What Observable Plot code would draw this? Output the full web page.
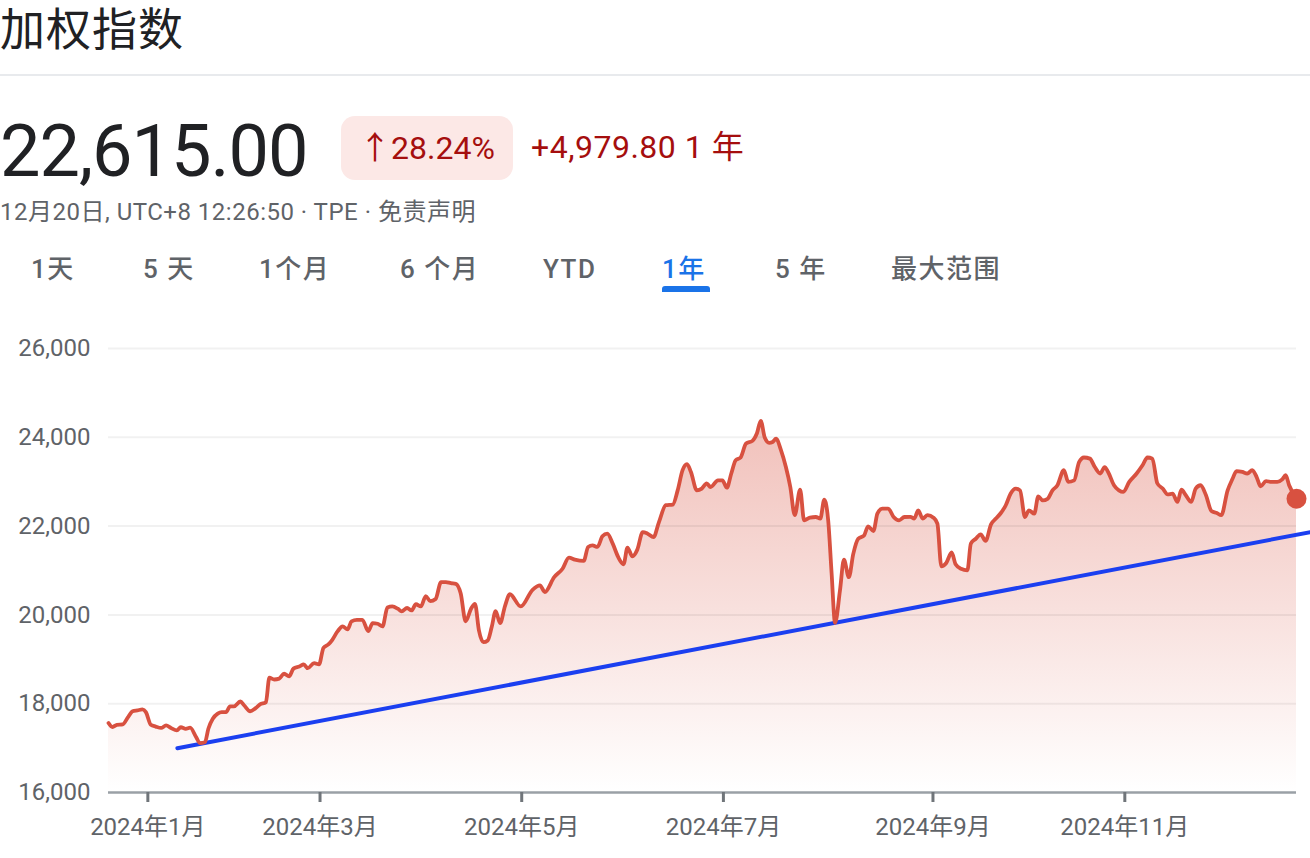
<!DOCTYPE html>
<html>
<head>
<meta charset="utf-8">
<script src="https://cdn.jsdelivr.net/npm/d3@7"></script>
<script src="https://cdn.jsdelivr.net/npm/@observablehq/plot@0.6"></script>
<style>
  html, body { margin: 0; padding: 0; background: #fff; }
  body { width: 1310px; height: 858px; position: relative; overflow: hidden;
         font-family: Roboto, "Noto Sans CJK SC", "Noto Sans", sans-serif; }
  .abs { position: absolute; white-space: nowrap; }
  #title { left: 0; top: 2px; font-size: 45px; line-height: 50px; color: #202124; font-family: "Noto Sans CJK SC", Roboto, sans-serif; letter-spacing: 1px; }
  #divider { left: 0; top: 74px; width: 1310px; height: 2px; background: #e8eaed; }
  #price { left: 0; top: 116px; font-size: 72px; line-height: 72px; color: #202124; letter-spacing: -1px; }
  #badge { left: 341px; top: 116px; width: 172px; height: 64px; border-radius: 14px; background: #fce8e6;
           color: #a50e0e; font-size: 32px; line-height: 64px; text-align: center; }
  #change { left: 531px; top: 131px; font-size: 32px; line-height: 32px; color: #a50e0e; letter-spacing: 0.5px; }
  #sub { left: 0; top: 200px; font-size: 24px; line-height: 24px; color: #5f6368; letter-spacing: 0.5px; }
  .tab { top: 256px; font-size: 26px; line-height: 26px; color: #5f6368; font-weight: 500; letter-spacing: 1.5px; }
  .tab.active { color: #1a73e8; }
  #underline { left: 662px; top: 286px; width: 48px; height: 6px; border-radius: 3px 3px 0 0; background: #1a73e8; }
  #chart { left: 0; top: 320px; }
</style>
</head>
<body>
<div class="abs" id="title"></div>
<div class="abs" id="divider"></div>
<div class="abs" id="price"></div>
<div class="abs" id="badge"></div>
<div class="abs" id="change"></div>
<div class="abs" id="sub"></div>
<div id="tabs"></div>
<div class="abs" id="underline"></div>
<div class="abs" id="chart"></div>
<script>
// ---- text content ----
const titleText = "加权指数";
const priceText = "22,615.00";
const pctText = "↑28.24%";
const changeText = "+4,979.80 1 年";
const subText = "12月20日, UTC+8 12:26:50 · TPE · 免责声明";
const tabLabels = ["1天", "5 天", "1个月", "6 个月", "YTD", "1年", "5 年", "最大范围"];
const activeTab = "1年";

// ---- data: trading-session index (0 = first session shown) and close ----
const session = [0, 0.8, 1.7, 2.9, 3.9, 4.9, 5.9, 6.9, 7.6, 8.6, 9.6, 10.7, 11.7, 12.7, 13.9, 14.7, 15.7, 16.6, 17.8, 18.6,
  19.6, 20.3, 21.2, 22.2, 23.0, 23.9, 24.7, 25.5, 26.8, 27.6, 28.8, 29.8, 30.8, 32.0, 32.7, 33.7, 34.7, 35.7, 36.7, 37.6,
  38.8, 39.7, 40.5, 41.8, 42.8, 43.7, 44.7, 45.5, 46.6, 47.6, 48.6, 49.4, 50.5, 51.6, 52.8, 53.7, 54.7, 55.7, 56.7, 57.7,
  58.8, 59.6, 60.7, 61.6, 62.5, 63.5, 64.5, 65.4, 66.5, 67.6, 68.6, 69.6, 70.6, 71.6, 72.6, 73.7, 74.5, 75.3, 76.2, 77.1,
  77.9, 78.7, 79.6, 80.6, 81.6, 83.8, 86.2, 87.7, 88.7, 90.6, 92.3, 93.6, 94.8, 96.6, 97.5, 98.4, 99.4, 100.4, 101.4, 102.5,
  103.6, 104.7, 105.5, 106.5, 107.5, 108.6, 109.6, 110.8, 111.9, 113.3, 114.7, 115.7, 116.7, 117.6, 118.4, 119.6, 120.6, 121.6, 122.4, 123.9,
  124.8, 125.7, 126.6, 127.5, 128.5, 129.6, 130.9, 131.8, 132.6, 133.4, 134.3, 135.0, 135.7, 136.7, 137.7, 138.6, 139.5, 140.6, 141.4, 142.6,
  143.8, 144.7, 145.5, 146.3, 147.0, 147.7, 148.7, 149.5, 150.5, 151.4, 152.4, 153.6, 154.4, 155.5, 156.3, 157.3, 158.5, 159.6, 160.7, 161.8,
  163.0, 163.8, 164.6, 165.5, 166.5, 167.7, 168.5, 169.3, 170.3, 171.4, 172.2, 173.3, 174.6, 175.3, 176.3, 177.3, 178.3, 179.4, 180.4, 181.4,
  182.4, 183.4, 184.4, 185.3, 186.3, 187.1, 188.2, 189.0, 189.9, 190.9, 191.9, 192.9, 194.2, 195.1, 196.3, 197.3, 198.3, 199.5, 200.5, 201.6,
  202.5, 203.2, 204.4, 205.4, 206.3, 207.5, 209.0, 210.2, 211.2, 212.2, 213.2, 214.3, 215.3, 216.3, 217.3, 218.1, 219.0, 220.1, 221.0, 222.0,
  223.1, 224.2, 225.3, 226.2, 227.5, 228.5, 229.3, 230.5, 231.5, 232.5, 233.4, 234.2, 235.3, 236.4, 237.6, 238.6, 239.3, 240.0, 241.5];
const close = [17565, 17475, 17525, 17535, 17685, 17830, 17850, 17870, 17810, 17525, 17485, 17455, 17510, 17455, 17400, 17470, 17435, 17460, 17250, 17110,
  17130, 17435, 17660, 17775, 17810, 17810, 17940, 17940, 18050, 17960, 17830, 17890, 17985, 18035, 18585, 18545, 18565, 18675, 18615, 18790,
  18840, 18885, 18800, 18915, 18885, 19260, 19335, 19440, 19635, 19740, 19675, 19855, 19890, 19890, 19635, 19815, 19800, 19740, 20165, 20190,
  20140, 20080, 20155, 20100, 20240, 20190, 20425, 20310, 20360, 20740, 20740, 20715, 20700, 20480, 19855, 20140, 20250, 19650, 19385, 19425,
  19725, 20085, 19815, 20200, 20465, 20190, 20565, 20665, 20515, 20850, 21040, 21290, 21245, 21215, 21530, 21565, 21530, 21770, 21830, 21605,
  21305, 21140, 21515, 21320, 21470, 21865, 21830, 21755, 22090, 22470, 22485, 22805, 23260, 23395, 23220, 22805, 22845, 22960, 22880, 23030,
  23030, 22865, 23185, 23485, 23545, 23860, 23920, 24085, 24370, 23995, 23875, 23895, 23970, 23710, 23330, 22880, 22245, 22820, 22130, 22190,
  22205, 22170, 22595, 22130, 20930, 19820, 20555, 21245, 20850, 21375, 21715, 21790, 21995, 21890, 22280, 22395, 22395, 22205, 22130, 22205,
  22210, 22170, 22355, 22170, 22245, 22190, 22055, 21095, 21170, 21405, 21140, 21040, 21005, 21605, 21715, 21815, 21665, 22040, 22170, 22295,
  22470, 22735, 22845, 22805, 22205, 22355, 22280, 22670, 22580, 22615, 22805, 22920, 23260, 22995, 23030, 23440, 23545, 23520, 23330, 23185,
  23330, 23220, 22920, 22805, 22770, 22995, 23185, 23370, 23545, 23520, 22965, 22845, 22715, 22730, 22545, 22820, 22695, 22545, 22845, 22920,
  22695, 22340, 22295, 22245, 22805, 23065, 23240, 23220, 23185, 23260, 23105, 22895, 23015, 22995, 22995, 23050, 23145, 22920, 22615];

// support (trend) line drawn on the chart: two anchor points
const trendSession = [14.0, 244.4];
const trendValue = [16998, 21866];

// axes
const yTicks = [16000, 18000, 20000, 22000, 24000, 26000];
const monthSession = [8, 43, 84, 125, 167.6, 206.6];
const monthLabel = ["2024年1月", "2024年3月", "2024年5月", "2024年7月", "2024年9月", "2024年11月"];

// ---- header ----
document.getElementById("title").textContent = titleText;
document.getElementById("price").textContent = priceText;
document.getElementById("badge").textContent = pctText;
document.getElementById("change").textContent = changeText;
document.getElementById("sub").textContent = subText;
const tabLeft = [31, 143, 259, 400, 543, 662, 775, 891];
const tabsDiv = document.getElementById("tabs");
tabLabels.forEach((t, i) => {
  const d = document.createElement("div");
  d.className = "abs tab" + (t === activeTab ? " active" : "");
  d.style.left = tabLeft[i] + "px";
  d.textContent = t;
  tabsDiv.appendChild(d);
});

// ---- chart ----
const data = session.map((s, i) => ({session: s, close: close[i]}));
const trend = trendSession.map((s, i) => ({session: s, close: trendValue[i]}));
const last = [data[data.length - 1]];
const labelOf = new Map(monthSession.map((s, i) => [s, monthLabel[i]]));

const gradient = () => {
  const defs = d3.create("svg:defs");
  const g = defs.append("linearGradient").attr("id", "areaGrad").attr("x1", 0).attr("y1", 0).attr("x2", 0).attr("y2", 1);
  g.append("stop").attr("offset", "0%").attr("stop-color", "#d85140").attr("stop-opacity", 0.36);
  g.append("stop").attr("offset", "100%").attr("stop-color", "#d85140").attr("stop-opacity", 0.0);
  return defs.node();
};

const chart = Plot.plot({
  width: 1310,
  height: 538,
  marginTop: 28,
  marginBottom: 66,
  marginLeft: 108,
  marginRight: 14,
  style: {fontFamily: "Roboto, 'Noto Sans CJK SC', sans-serif", fontSize: "24px", color: "#5f6368", background: "transparent", overflow: "visible"},
  x: {domain: [0, 241.5], axis: null},
  y: {domain: [16000, 26000], axis: null},
  marks: [
    gradient,
    Plot.areaY(data, {x: "session", y1: 16000, y2: "close", fill: "url(#areaGrad)", curve: "monotone-x"}),
    Plot.ruleY(yTicks.slice(1), {stroke: "#000", strokeOpacity: 0.055, strokeWidth: 2}),
    Plot.axisY({ticks: yTicks, label: null, tickSize: 0, tickPadding: 18, tickFormat: d3.format(","), fontSize: 24, fill: "#5f6368"}),
    Plot.ruleY([16000], {stroke: "#9aa0a6", strokeWidth: 2.5}),
    Plot.axisX({ticks: monthSession, label: null, tickSize: 10, tickPadding: 15, tickFormat: d => labelOf.get(d),
                stroke: "#70757a", strokeWidth: 3, strokeOpacity: 1, fontSize: 24, fill: "#5f6368"}),
    Plot.line(trend, {x: "session", y: "close", stroke: "#1b3ff0", strokeWidth: 4, clip: false}),
    Plot.line(data, {x: "session", y: "close", stroke: "#d85140", strokeWidth: 3.8, curve: "monotone-x"}),
    Plot.dot(last, {x: "session", y: "close", r: 10, fill: "#d85140", stroke: "none"})
  ]
});
document.getElementById("chart").appendChild(chart);
</script>
</body>
</html>
